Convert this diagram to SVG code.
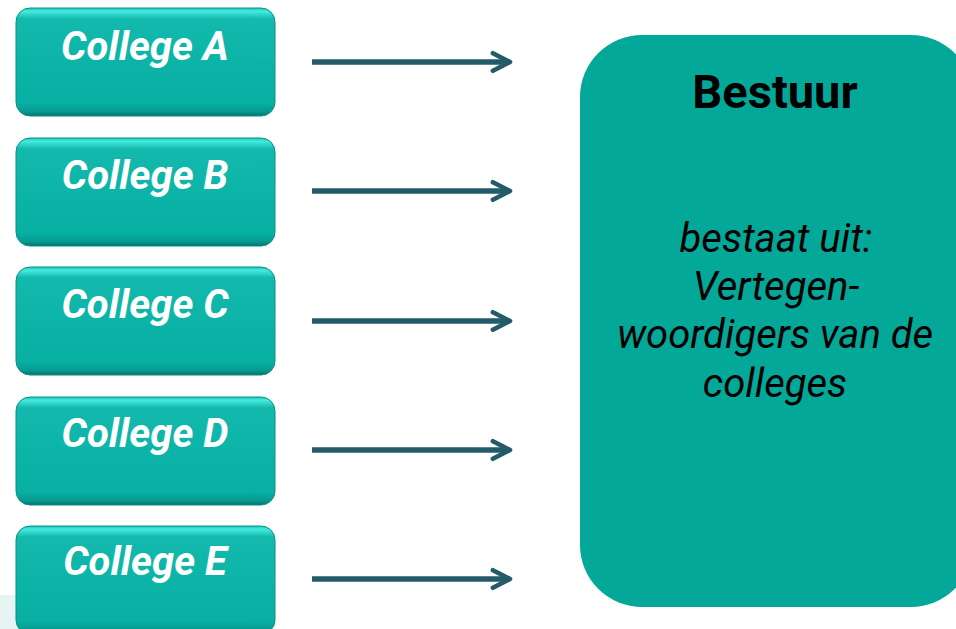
<svg xmlns="http://www.w3.org/2000/svg" width="956" height="629" viewBox="0 0 956 629">
<defs>
<linearGradient id="bevel" x1="0" y1="0" x2="0" y2="1">
<stop offset="0" stop-color="#1cc4b7"/>
<stop offset="0.03" stop-color="#44ebde"/>
<stop offset="0.1" stop-color="#12b9ac"/>
<stop offset="0.88" stop-color="#07b0a3"/>
<stop offset="0.96" stop-color="#079a90"/>
<stop offset="1" stop-color="#05716a"/>
</linearGradient>
<marker id="chev" viewBox="0 0 10 10" refX="8.6" refY="5" markerWidth="4.2" markerHeight="4.2" markerUnits="strokeWidth" orient="auto">
<path d="M1.2,1.2 L8.6,5 L1.2,8.8" fill="none" stroke="#235b68" stroke-width="2" stroke-linecap="round" stroke-linejoin="round"/>
</marker>
<style>
.college rect{fill:url(#bevel);stroke:#0a8f86;stroke-width:1}
.college text{font-family:Roboto,"Liberation Sans",sans-serif;font-weight:bold;font-style:italic;font-size:40px;fill:#ffffff;text-anchor:middle}
.arrow{stroke:#235b68;stroke-width:5.5;fill:none;marker-end:url(#chev)}
.title{font-family:Roboto,"Liberation Sans",sans-serif;font-weight:bold;font-size:47px;fill:#000000;text-anchor:middle}
.body{font-family:Roboto,"Liberation Sans",sans-serif;font-style:italic;font-size:40px;fill:#000000;text-anchor:middle}
</style>
</defs>
<rect x="0" y="595" width="30" height="34" fill="#e6f5f4"/>
<g id="college-a" class="college"><rect x="16" y="8" width="259" height="108" rx="14"/><text x="145" y="60">College A</text></g>
<g id="college-b" class="college"><rect x="16" y="138" width="259" height="108" rx="14"/><text x="145" y="189">College B</text></g>
<g id="college-c" class="college"><rect x="16" y="267" width="259" height="108" rx="14"/><text x="145" y="318">College C</text></g>
<g id="college-d" class="college"><rect x="16" y="397" width="259" height="108" rx="14"/><text x="145" y="447">College D</text></g>
<g id="college-e" class="college"><rect x="16" y="526" width="259" height="108" rx="14"/><text x="145" y="575">College E</text></g>
<g id="bestuur">
<rect x="580" y="35" width="393" height="572" rx="62" fill="#03a899"/>
<text class="title" x="775" y="108">Bestuur</text>
<text class="body" x="776" y="252">bestaat uit:</text>
<text class="body" x="776" y="300">Vertegen-</text>
<text class="body" x="775" y="348">woordigers van de</text>
<text class="body" x="775" y="397">colleges</text>
</g>
<g id="connectors">
<line class="arrow" x1="312" y1="62" x2="510" y2="62"/>
<line class="arrow" x1="312" y1="191" x2="510" y2="191"/>
<line class="arrow" x1="312" y1="321" x2="510" y2="321"/>
<line class="arrow" x1="312" y1="450" x2="510" y2="450"/>
<line class="arrow" x1="312" y1="579" x2="510" y2="579"/>
</g>
</svg>
